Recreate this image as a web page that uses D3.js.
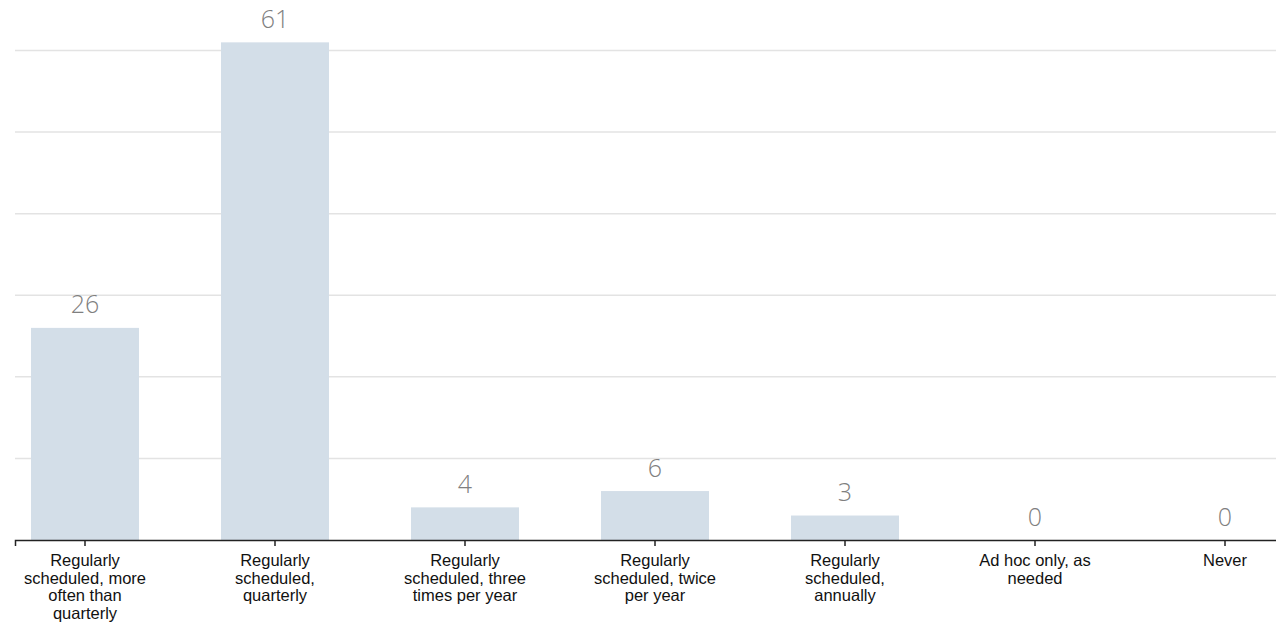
<!DOCTYPE html>
<html>
<head>
<meta charset="utf-8">
<script src="https://cdn.jsdelivr.net/npm/d3@7"></script>
<style>
  html, body { margin: 0; padding: 0; background: #fff; }
  svg { display: block; }
</style>
</head>
<body>
<svg id="chart" width="1276" height="625"></svg>
<script>
// Review frequency responses
const categories = [
  "Regularly scheduled, more often than quarterly",
  "Regularly scheduled, quarterly",
  "Regularly scheduled, three times per year",
  "Regularly scheduled, twice per year",
  "Regularly scheduled, annually",
  "Ad hoc only, as needed",
  "Never"
];
const counts = [26, 61, 4, 6, 3, 0, 0];
const gridValues = [10, 20, 30, 40, 50, 60];

const svg = d3.select("#chart");
const baseY = 540;
const left = 15;

const x = d3.scaleBand()
  .domain(categories)
  .range([left, 1295])
  .paddingInner(0.4316)
  .paddingOuter(0.0842);

const y = d3.scaleLinear()
  .domain([0, 60])
  .range([baseY, 50.5]);

// horizontal gridlines
svg.append("g")
  .selectAll("line")
  .data(gridValues)
  .join("line")
  .attr("x1", left)
  .attr("x2", 1276)
  .attr("y1", d => y(d))
  .attr("y2", d => y(d))
  .attr("stroke", "#e3e3e3")
  .attr("stroke-width", 1.5);

// bars
svg.append("g")
  .selectAll("rect")
  .data(categories)
  .join("rect")
  .attr("x", d => x(d))
  .attr("width", x.bandwidth())
  .attr("y", (d, i) => y(counts[i]))
  .attr("height", (d, i) => baseY - y(counts[i]))
  .attr("fill", "#d3dee8");

// value labels
svg.append("g")
  .selectAll("text")
  .data(categories)
  .join("text")
  .attr("x", d => x(d) + x.bandwidth() / 2)
  .attr("y", (d, i) => y(counts[i]) - 14.5)
  .attr("text-anchor", "middle")
  .attr("font-family", "'Open Sans', sans-serif")
  .attr("font-weight", 300)
  .attr("font-size", 25)
  .attr("fill", "#7f7f7f")
  .text((d, i) => counts[i]);

// x axis
const axis = svg.append("g")
  .attr("transform", `translate(0,${baseY})`)
  .call(d3.axisBottom(x).tickSize(6).tickSizeOuter(6).tickPadding(8));

axis.select(".domain").attr("stroke", "#222").attr("stroke-width", 1.5);
axis.selectAll(".tick line").attr("stroke", "#222").attr("stroke-width", 1.5);
axis.selectAll(".tick text")
  .attr("font-family", "'Liberation Sans', Arial, sans-serif")
  .attr("font-size", 16.5)
  .attr("fill", "#111")
  .call(wrap, 135);

function wrap(texts, width) {
  texts.each(function () {
    const text = d3.select(this);
    const words = text.text().split(/\s+/);
    const yAttr = text.attr("y");
    const dy = parseFloat(text.attr("dy")) || 0;
    text.text(null);
    let line = [];
    let lineNo = 0;
    let tspan = text.append("tspan").attr("x", 0).attr("y", yAttr).attr("dy", dy + "em");
    for (const w of words) {
      line.push(w);
      tspan.text(line.join(" "));
      if (tspan.node().getComputedTextLength() > width && line.length > 1) {
        line.pop();
        tspan.text(line.join(" "));
        line = [w];
        lineNo++;
        tspan = text.append("tspan").attr("x", 0).attr("y", yAttr)
          .attr("dy", (lineNo * 1.08 + dy) + "em").text(w);
      }
    }
  });
}
</script>
</body>
</html>
